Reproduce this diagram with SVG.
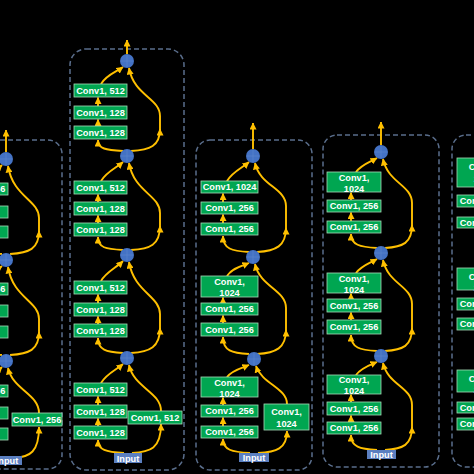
<svg xmlns="http://www.w3.org/2000/svg" width="474" height="474" viewBox="0 0 474 474">
<defs>
<style>
.box{fill:#00A651;stroke:#a5dcb8;stroke-width:0.8}
.t{font-family:"Liberation Sans",Arial,sans-serif;font-size:9.2px;font-weight:bold;fill:#fff;text-anchor:middle}
.add{fill:#4472C4}
.plus{stroke:#5f86cf;stroke-width:0.6;fill:none}
.in{fill:#5b7fc0}
.frame{fill:none;stroke:#5a6e8c;stroke-width:1.5;stroke-dasharray:5 3}
.c{fill:none;stroke:#FFC000;stroke-width:1.9;marker-end:url(#ah)}
</style>
<marker id="ah" markerWidth="7" markerHeight="7" refX="6.5" refY="3.5" orient="auto" markerUnits="userSpaceOnUse"><path d="M0,0 L7,3.5 L0,7 z" fill="#FFC000"/></marker>
</defs>
<rect x="0" y="0" width="474" height="474" fill="#000"/>
<g id="frames">
<rect class="frame" x="-70" y="140" width="132" height="329" rx="14"/>
<rect class="frame" x="70" y="49" width="114" height="421" rx="16"/>
<rect class="frame" x="196" y="140" width="116" height="330" rx="14"/>
<rect class="frame" x="323" y="135" width="116" height="332" rx="14"/>
<rect class="frame" x="452" y="135" width="100" height="332" rx="14"/>
</g>
<g id="connectors">
<!-- col1 -->
<path class="c" d="M6,152 L6,130"/>
<path class="c" d="M10,254 C29,253 39,249 39,231"/>
<path class="c" d="M39,232 L39,218 C39,200 13,197 8,166"/>
<path class="c" d="M2,254 C-14,253 -22,251 -22,240"/>
<path class="c" d="M-20,183 C-12,174 -3,170 2,165"/>
<path class="c" d="M10,355 C29,354 39,350 39,332"/>
<path class="c" d="M39,333 L39,319 C39,301 13,298 8,267"/>
<path class="c" d="M2,355 C-14,354 -22,352 -22,340"/>
<path class="c" d="M-20,283 C-12,274 -3,270 2,266"/>
<path class="c" d="M14,458 C30,457 39,452 39,427"/>
<path class="c" d="M39,413 C39,394 13,390 8,368"/>
<path class="c" d="M0,458 C-14,457 -22,454 -22,442"/>
<path class="c" d="M-20,385 C-12,376 -3,372 2,367"/>
<!-- col2 -->
<path class="c" d="M127,54 L127,40"/>
<path class="c" d="M123,151 C106,150 98,149 98,140"/>
<path class="c" d="M131,151 C150,150 160,146 160,129"/>
<path class="c" d="M160,130 L160,116 C160,98 134,96 129,68"/>
<path class="c" d="M101,84 C106,75 116,72 123,67"/>
<path class="c" d="M98,106 L98,97.5"/>
<path class="c" d="M98,126 L98,119.5"/>
<path class="c" d="M123,250 C106,249 98,248 98,237"/>
<path class="c" d="M131,250 C150,249 160,245 160,226"/>
<path class="c" d="M160,227 L160,213 C160,195 134,192 129,163"/>
<path class="c" d="M101,181 C106,172 116,168 123,162"/>
<path class="c" d="M98,202 L98,194.5"/>
<path class="c" d="M98,223 L98,215.5"/>
<path class="c" d="M123,353 C106,352 98,350 98,338"/>
<path class="c" d="M131,353 C150,352 160,347 160,328"/>
<path class="c" d="M160,329 L160,314 C160,296 134,292 129,262"/>
<path class="c" d="M101,281 C106,272 116,268 123,261"/>
<path class="c" d="M98,303 L98,294.5"/>
<path class="c" d="M98,324 L98,316.5"/>
<path class="c" d="M124,453 C106,452 98,450 98,440"/>
<path class="c" d="M132,453 C150,452 161,449 161,424"/>
<path class="c" d="M161,411 C161,392 134,388 129,365"/>
<path class="c" d="M101,383 C106,374 116,370 123,364"/>
<path class="c" d="M98,405 L98,396.5"/>
<path class="c" d="M98,426 L98,418.5"/>
<!-- col3 -->
<path class="c" d="M253,149 L253,123"/>
<path class="c" d="M249,252 C232,251 223,249 223,236"/>
<path class="c" d="M257,252 C276,251 286,246 286,228"/>
<path class="c" d="M286,229 L286,206 C286,188 260,186 255,163"/>
<path class="c" d="M227,181 C232,172 242,168 249,162"/>
<path class="c" d="M223,202 L223,193.5"/>
<path class="c" d="M223,223 L223,214.5"/>
<path class="c" d="M249,354 C232,353 223,351 223,337"/>
<path class="c" d="M257,354 C276,353 286,348 286,330"/>
<path class="c" d="M286,331 L286,308 C286,290 260,287 255,264"/>
<path class="c" d="M227,276 C232,268 242,266 249,263"/>
<path class="c" d="M223,303 L223,297.5"/>
<path class="c" d="M223,323 L223,315.5"/>
<path class="c" d="M250,453 C232,452 223,450 223,439"/>
<path class="c" d="M258,453 C276,452 287,449 287,431"/>
<path class="c" d="M287,404 C287,388 262,384 256,366"/>
<path class="c" d="M227,377 C232,370 242,368 249,365"/>
<path class="c" d="M223,405 L223,397.5"/>
<path class="c" d="M223,426 L223,417.5"/>
<!-- col4 -->
<path class="c" d="M381,145 L381,122"/>
<path class="c" d="M377,248 C360,247 351,245 351,234"/>
<path class="c" d="M385,248 C403,247 412,243 412,225"/>
<path class="c" d="M412,226 L412,203 C412,185 388,183 383,159"/>
<path class="c" d="M356,172 C361,165 370,162 377,158"/>
<path class="c" d="M351,200 L351,192.5"/>
<path class="c" d="M351,221 L351,212.5"/>
<path class="c" d="M377,351 C360,350 351,348 351,335"/>
<path class="c" d="M385,351 C403,350 412,346 412,328"/>
<path class="c" d="M412,329 L412,304 C412,286 388,284 383,260"/>
<path class="c" d="M356,273 C361,266 370,263 377,259"/>
<path class="c" d="M351,299 L351,293.5"/>
<path class="c" d="M351,320 L351,312.5"/>
<path class="c" d="M377,450 C360,449 351,447 351,435"/>
<path class="c" d="M385,450 C403,449 412,445 412,427"/>
<path class="c" d="M412,428 L412,405 C412,387 388,385 383,363"/>
<path class="c" d="M356,375 C361,368 370,365 377,362"/>
<path class="c" d="M351,402 L351,394.5"/>
<path class="c" d="M351,422 L351,415.5"/>
</g>
<!-- column 1 nodes -->
<g id="c1-b1-conv3"><rect class="box" x="-46" y="183" width="54" height="12"/><text class="t" x="-19" y="192.3">Conv1, 256</text></g>
<g id="c1-b1-conv2"><rect class="box" x="-46" y="206" width="54" height="12"/><text class="t" x="-23" y="215.3">Conv1, 64</text></g>
<g id="c1-b1-conv1"><rect class="box" x="-46" y="226" width="54" height="12"/><text class="t" x="-23" y="235.3">Conv1, 64</text></g>
<g id="c1-b2-conv3"><rect class="box" x="-46" y="283" width="54" height="12"/><text class="t" x="-19" y="292.3">Conv1, 256</text></g>
<g id="c1-b2-conv2"><rect class="box" x="-46" y="305" width="54" height="12"/><text class="t" x="-23" y="314.3">Conv1, 64</text></g>
<g id="c1-b2-conv1"><rect class="box" x="-46" y="326" width="54" height="12"/><text class="t" x="-23" y="335.3">Conv1, 64</text></g>
<g id="c1-b3-conv3"><rect class="box" x="-46" y="385" width="54" height="12"/><text class="t" x="-19" y="394.3">Conv1, 256</text></g>
<g id="c1-b3-conv2"><rect class="box" x="-46" y="407" width="54" height="12"/><text class="t" x="-23" y="416.3">Conv1, 64</text></g>
<g id="c1-b3-conv1"><rect class="box" x="-46" y="428" width="54" height="12"/><text class="t" x="-23" y="437.3">Conv1, 64</text></g>
<g id="c1-shortcut"><rect class="box" x="12" y="413" width="50" height="13"/><text class="t" x="37" y="422.8">Conv1, 256</text></g>
<g id="c1-add1"><circle class="add" cx="6" cy="159" r="7"/><path class="plus" d="M6,153V165M0,159H12"/></g>
<g id="c1-add2"><circle class="add" cx="6" cy="260" r="7"/><path class="plus" d="M6,254V266M0,260H12"/></g>
<g id="c1-add3"><circle class="add" cx="6" cy="361" r="7"/><path class="plus" d="M6,355V367M0,361H12"/></g>
<g id="c1-input"><rect class="in" x="-8" y="456" width="30" height="9"/><text class="t" x="7" y="463.8">Input</text></g>
<!-- column 2 nodes -->
<g id="c2-b1-conv3"><rect class="box" x="74" y="84" width="53" height="13"/><text class="t" x="100.5" y="93.8">Conv1, 512</text></g>
<g id="c2-b1-conv2"><rect class="box" x="74" y="106" width="53" height="13"/><text class="t" x="100.5" y="115.8">Conv1, 128</text></g>
<g id="c2-b1-conv1"><rect class="box" x="74" y="126" width="53" height="13"/><text class="t" x="100.5" y="135.8">Conv1, 128</text></g>
<g id="c2-b2-conv3"><rect class="box" x="74" y="181" width="53" height="13"/><text class="t" x="100.5" y="190.8">Conv1, 512</text></g>
<g id="c2-b2-conv2"><rect class="box" x="74" y="202" width="53" height="13"/><text class="t" x="100.5" y="211.8">Conv1, 128</text></g>
<g id="c2-b2-conv1"><rect class="box" x="74" y="223" width="53" height="13"/><text class="t" x="100.5" y="232.8">Conv1, 128</text></g>
<g id="c2-b3-conv3"><rect class="box" x="74" y="281" width="53" height="13"/><text class="t" x="100.5" y="290.8">Conv1, 512</text></g>
<g id="c2-b3-conv2"><rect class="box" x="74" y="303" width="53" height="13"/><text class="t" x="100.5" y="312.8">Conv1, 128</text></g>
<g id="c2-b3-conv1"><rect class="box" x="74" y="324" width="53" height="13"/><text class="t" x="100.5" y="333.8">Conv1, 128</text></g>
<g id="c2-b4-conv3"><rect class="box" x="74" y="383" width="53" height="13"/><text class="t" x="100.5" y="392.8">Conv1, 512</text></g>
<g id="c2-b4-conv2"><rect class="box" x="74" y="405" width="53" height="13"/><text class="t" x="100.5" y="414.8">Conv1, 128</text></g>
<g id="c2-b4-conv1"><rect class="box" x="74" y="426" width="53" height="13"/><text class="t" x="100.5" y="435.8">Conv1, 128</text></g>
<g id="c2-shortcut"><rect class="box" x="128" y="411" width="54" height="13"/><text class="t" x="155" y="420.8">Conv1, 512</text></g>
<g id="c2-add1"><circle class="add" cx="127" cy="61" r="7"/><path class="plus" d="M127,55V67M121,61H133"/></g>
<g id="c2-add2"><circle class="add" cx="127" cy="156" r="7"/><path class="plus" d="M127,150V162M121,156H133"/></g>
<g id="c2-add3"><circle class="add" cx="127" cy="255" r="7"/><path class="plus" d="M127,249V261M121,255H133"/></g>
<g id="c2-add4"><circle class="add" cx="127" cy="358" r="7"/><path class="plus" d="M127,352V364M121,358H133"/></g>
<g id="c2-input"><rect class="in" x="114" y="453" width="28" height="10"/><text class="t" x="128" y="461.5">Input</text></g>
<!-- column 3 nodes -->
<g id="c3-b1-conv3"><rect class="box" x="201" y="181" width="57" height="12"/><text class="t" x="229.5" y="190.3">Conv1, 1024</text></g>
<g id="c3-b1-conv2"><rect class="box" x="201" y="202" width="57" height="12"/><text class="t" x="229.5" y="211.3">Conv1, 256</text></g>
<g id="c3-b1-conv1"><rect class="box" x="201" y="223" width="57" height="12"/><text class="t" x="229.5" y="232.3">Conv1, 256</text></g>
<g id="c3-b2-conv3"><rect class="box" x="201" y="276" width="57" height="21"/><text class="t" x="229.5" y="284.5">Conv1,</text><text class="t" x="229.5" y="296">1024</text></g>
<g id="c3-b2-conv2"><rect class="box" x="201" y="303" width="57" height="12"/><text class="t" x="229.5" y="312.3">Conv1, 256</text></g>
<g id="c3-b2-conv1"><rect class="box" x="201" y="323" width="57" height="13"/><text class="t" x="229.5" y="332.8">Conv1, 256</text></g>
<g id="c3-b3-conv3"><rect class="box" x="201" y="377" width="57" height="20"/><text class="t" x="229.5" y="385.5">Conv1,</text><text class="t" x="229.5" y="396.5">1024</text></g>
<g id="c3-b3-conv2"><rect class="box" x="201" y="405" width="57" height="12"/><text class="t" x="229.5" y="414.3">Conv1, 256</text></g>
<g id="c3-b3-conv1"><rect class="box" x="201" y="426" width="57" height="12"/><text class="t" x="229.5" y="435.3">Conv1, 256</text></g>
<g id="c3-shortcut"><rect class="box" x="264" y="404" width="45" height="26"/><text class="t" x="286.5" y="414.5">Conv1,</text><text class="t" x="286.5" y="427">1024</text></g>
<g id="c3-add1"><circle class="add" cx="253" cy="156" r="7"/><path class="plus" d="M253,150V162M247,156H259"/></g>
<g id="c3-add2"><circle class="add" cx="253" cy="257" r="7"/><path class="plus" d="M253,251V263M247,257H259"/></g>
<g id="c3-add3"><circle class="add" cx="254" cy="359" r="7"/><path class="plus" d="M254,353V365M248,359H260"/></g>
<g id="c3-input"><rect class="in" x="239" y="453" width="30" height="9"/><text class="t" x="254" y="461">Input</text></g>
<!-- column 4 nodes -->
<g id="c4-b1-conv3"><rect class="box" x="327" y="172" width="54" height="20"/><text class="t" x="354" y="180.5">Conv1,</text><text class="t" x="354" y="191.5">1024</text></g>
<g id="c4-b1-conv2"><rect class="box" x="327" y="200" width="54" height="12"/><text class="t" x="354" y="209.3">Conv1, 256</text></g>
<g id="c4-b1-conv1"><rect class="box" x="327" y="221" width="54" height="12"/><text class="t" x="354" y="230.3">Conv1, 256</text></g>
<g id="c4-b2-conv3"><rect class="box" x="327" y="273" width="54" height="20"/><text class="t" x="354" y="281.5">Conv1,</text><text class="t" x="354" y="292.5">1024</text></g>
<g id="c4-b2-conv2"><rect class="box" x="327" y="299" width="54" height="13"/><text class="t" x="354" y="308.8">Conv1, 256</text></g>
<g id="c4-b2-conv1"><rect class="box" x="327" y="320" width="54" height="14"/><text class="t" x="354" y="330.3">Conv1, 256</text></g>
<g id="c4-b3-conv3"><rect class="box" x="327" y="375" width="54" height="19"/><text class="t" x="354" y="383">Conv1,</text><text class="t" x="354" y="394">1024</text></g>
<g id="c4-b3-conv2"><rect class="box" x="327" y="402" width="54" height="13"/><text class="t" x="354" y="411.8">Conv1, 256</text></g>
<g id="c4-b3-conv1"><rect class="box" x="327" y="422" width="54" height="12"/><text class="t" x="354" y="431.3">Conv1, 256</text></g>
<g id="c4-add1"><circle class="add" cx="381" cy="152" r="7"/><path class="plus" d="M381,146V158M375,152H387"/></g>
<g id="c4-add2"><circle class="add" cx="381" cy="253" r="7"/><path class="plus" d="M381,247V259M375,253H387"/></g>
<g id="c4-add3"><circle class="add" cx="381" cy="356" r="7"/><path class="plus" d="M381,350V362M375,356H387"/></g>
<g id="c4-input"><rect class="in" x="367" y="450" width="29" height="9"/><text class="t" x="381.5" y="458">Input</text></g>
<!-- column 5 nodes -->
<g id="c5-b1-conv3"><rect class="box" x="457" y="158" width="54" height="29"/><text class="t" x="484" y="170">Conv1,</text><text class="t" x="484" y="182">2048</text></g>
<g id="c5-b1-conv2"><rect class="box" x="457" y="195" width="54" height="12"/><text class="t" x="484" y="204.3">Conv1, 512</text></g>
<g id="c5-b1-conv1"><rect class="box" x="457" y="217" width="54" height="11"/><text class="t" x="484" y="225.8">Conv1, 512</text></g>
<g id="c5-b2-conv3"><rect class="box" x="457" y="268" width="54" height="22"/><text class="t" x="484" y="280">Conv1,</text><text class="t" x="484" y="291">2048</text></g>
<g id="c5-b2-conv2"><rect class="box" x="457" y="298" width="54" height="12"/><text class="t" x="484" y="307.3">Conv1, 512</text></g>
<g id="c5-b2-conv1"><rect class="box" x="457" y="318" width="54" height="12"/><text class="t" x="484" y="327.3">Conv1, 512</text></g>
<g id="c5-b3-conv3"><rect class="box" x="457" y="370" width="54" height="22"/><text class="t" x="484" y="382">Conv1,</text><text class="t" x="484" y="393">2048</text></g>
<g id="c5-b3-conv2"><rect class="box" x="457" y="402" width="54" height="11"/><text class="t" x="484" y="410.8">Conv1, 512</text></g>
<g id="c5-b3-conv1"><rect class="box" x="457" y="418" width="54" height="12"/><text class="t" x="484" y="427.3">Conv1, 512</text></g>
</svg>
